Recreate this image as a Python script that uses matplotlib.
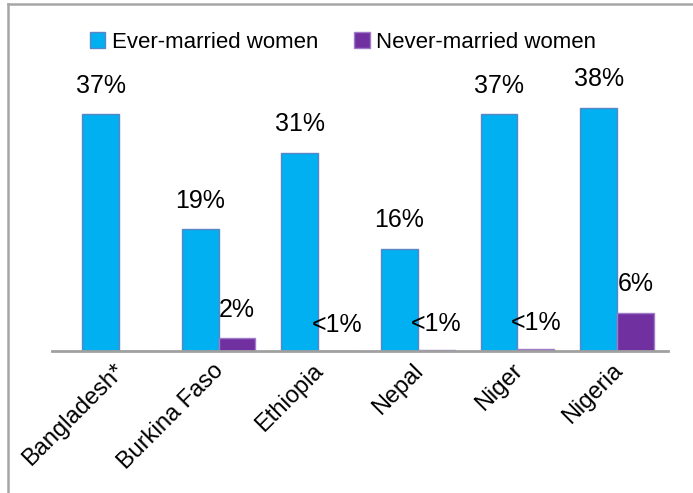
import matplotlib
matplotlib.use("Agg")
import matplotlib.pyplot as plt
from matplotlib.lines import Line2D
import matplotlib.transforms as mtransforms
import numpy as np

countries = ["Bangladesh*", "Burkina Faso", "Ethiopia", "Nepal", "Niger", "Nigeria"]
ever_married = [37, 19, 31, 16, 37, 38]
never_married = [np.nan, 2, 0.05, 0.1, 0.3, 6]
ever_labels = ["37%", "19%", "31%", "16%", "37%", "38%"]
never_labels = ["", "2%", "<1%", "<1%", "<1%", "6%"]

FONT = ["Liberation Sans", "DejaVu Sans"]
plt.rcParams["font.family"] = FONT

W, H = 693, 493
fig = plt.figure(figsize=(W / 100, H / 100), dpi=100)

# outer frame (only top and left edges visible)
frame_col = "#A6A6A6"
fig.add_artist(Line2D([7.5 / W, 1.0], [1 - 4 / H, 1 - 4 / H], transform=fig.transFigure,
                      color=frame_col, linewidth=1.8))
fig.add_artist(Line2D([7.5 / W, 7.5 / W], [0.0, 1 - 4 / H], transform=fig.transFigure,
                      color=frame_col, linewidth=1.8))

ax = fig.add_axes([52 / W, 142 / H, 616 / W, 256 / H])
x = np.arange(len(countries))
w = 0.37
blue = "#00B0F0"
purple = "#7030A0"

b1 = ax.bar(x - w / 2, ever_married, width=w, color=blue, edgecolor="#5B86C5",
            linewidth=1.0, label="Ever-married women")
b2 = ax.bar(x + w / 2, np.nan_to_num(never_married), width=w, color=purple,
            edgecolor="#A07CC8", linewidth=1.0, label="Never-married women")

for xi, v, t in zip(x, ever_married, ever_labels):
    ax.annotate(t, (xi - w / 2, v), xytext=(0, 12), textcoords="offset points",
                ha="center", va="bottom", fontsize=18, family=FONT)
for xi, v, t in zip(x, never_married, never_labels):
    if t:
        off = 12 if v >= 1 else 10
        ax.annotate(t, (xi + w / 2, np.nan_to_num(v)), xytext=(0, off),
                    textcoords="offset points", ha="center", va="bottom",
                    fontsize=18, family=FONT)

ax.set_xlim(-0.673, 5.512)
ax.set_ylim(0, 40)
for s in ["top", "right", "left"]:
    ax.spines[s].set_visible(False)
ax.spines["bottom"].set_color("#A0A0A0")
ax.spines["bottom"].set_linewidth(2)
ax.set_yticks([])
ax.set_xticks(x)
ax.set_xticklabels(countries, rotation=45, ha="right", va="center",
                   rotation_mode="anchor", fontsize=17, family=FONT)
ax.tick_params(axis="x", length=0, pad=12)
shift = mtransforms.ScaledTranslation(2 / 100, 0, fig.dpi_scale_trans)
for lbl in ax.get_xticklabels():
    lbl.set_transform(lbl.get_transform() + shift)
ax.patch.set_alpha(0)

fig.legend(handles=[b1, b2], loc="center", bbox_to_anchor=(343 / W, 1 - 42 / H),
           ncol=2, frameon=False, handlelength=0.7, handleheight=0.7,
           handletextpad=0.3, columnspacing=1.6, prop={"family": FONT, "size": 16})

fig.savefig("out.png", dpi=100)
